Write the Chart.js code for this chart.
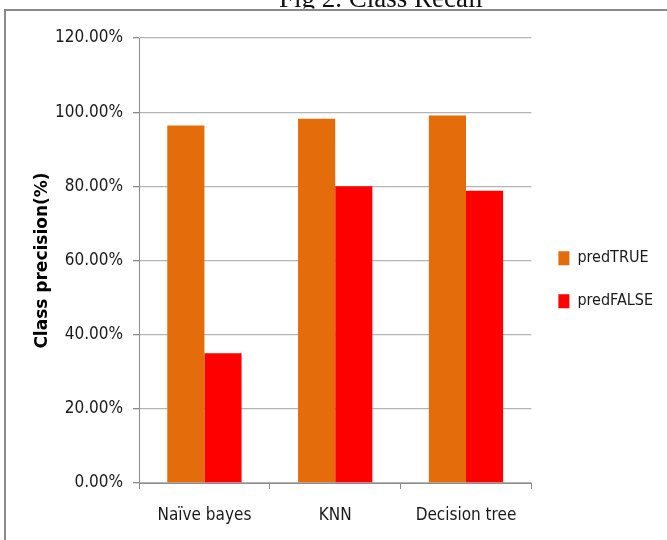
<!DOCTYPE html>
<html>
<head>
<meta charset="utf-8">
<script src="https://cdn.jsdelivr.net/npm/chart.js@4/dist/chart.umd.min.js"></script>
<style>
  html, body { margin: 0; padding: 0; background: #fff; }
  #wrap { position: relative; width: 667px; height: 540px; }
</style>
</head>
<body>
<div id="wrap"><canvas id="c" width="667" height="540"></canvas></div>
<script>
// Classifiers compared
const categories = ['Naïve bayes', 'KNN', 'Decision tree'];
// Class scores per classifier, in percent
const predTRUE = [96.4, 98.2, 99.1];
const predFALSE = [35.0, 80.0, 78.8];
// Value axis
const yMin = 0;
const yMax = 120;
const yStep = 20;
const yTitle = 'Class precision(%)';
const figCaption = 'Fig 2. Class Recall';

const narrow = '"DejaVu Sans Condensed", "Liberation Sans", Arial, sans-serif';
const wide = '"DejaVu Sans", "Liberation Sans", Arial, sans-serif';

// Page frame and the caption peeking above it
const framePlugin = {
  id: 'frame',
  afterDraw(chart) {
    const ctx = chart.ctx;
    ctx.save();
    ctx.beginPath();
    ctx.rect(0, 0, 667, 8.5);
    ctx.clip();
    ctx.fillStyle = '#111';
    ctx.font = '27px "Liberation Serif", "Times New Roman", serif';
    ctx.textAlign = 'center';
    ctx.textBaseline = 'alphabetic';
    ctx.fillText(figCaption, 381, 7);
    ctx.restore();

    ctx.save();
    ctx.strokeStyle = '#8a8a8a';
    ctx.lineWidth = 2;
    ctx.beginPath();
    ctx.moveTo(5, 540);
    ctx.lineTo(5, 10);
    ctx.lineTo(667, 10);
    ctx.stroke();
    ctx.restore();
  }
};

new Chart(document.getElementById('c'), {
  type: 'bar',
  data: {
    labels: categories,
    datasets: [
      { label: 'predTRUE', data: predTRUE, backgroundColor: '#E46C0A' },
      { label: 'predFALSE', data: predFALSE, backgroundColor: '#FF0000' }
    ]
  },
  options: {
    responsive: false,
    animation: false,
    devicePixelRatio: 1,
    layout: { padding: { left: 32, top: 38, right: 4, bottom: -2 } },
    datasets: {
      bar: { categoryPercentage: 0.568, barPercentage: 1.0 }
    },
    plugins: {
      title: { display: false },
      tooltip: { enabled: false },
      legend: {
        position: 'right',
        align: 'start',
        title: {
          display: true,
          text: ' ',
          font: { size: 1 },
          padding: { top: 184, bottom: 0 }
        },
        labels: {
          boxWidth: 11,
          boxHeight: 14,
          padding: 27,
          color: '#1a1a1a',
          font: { family: narrow, size: 16 }
        }
      }
    },
    scales: {
      x: {
        offset: true,
        grid: {
          offset: true,
          drawOnChartArea: false,
          drawTicks: true,
          tickLength: 6,
          color: '#8c8c8c',
          tickColor: '#8c8c8c',
          lineWidth: 1
        },
        border: { color: '#8c8c8c', width: 1 },
        ticks: {
          color: '#1a1a1a',
          padding: 16.3,
          maxRotation: 0,
          minRotation: 0,
          autoSkip: false,
          font: { family: narrow, size: 17 }
        }
      },
      y: {
        min: yMin,
        max: yMax,
        ticks: {
          stepSize: yStep,
          color: '#1a1a1a',
          padding: 10,
          font: { family: narrow, size: 17 },
          callback: v => v.toFixed(2) + '%'
        },
        grid: {
          color: '#b4b4b4',
          tickColor: '#8c8c8c',
          lineWidth: 1.3,
          drawTicks: true,
          tickLength: 6
        },
        border: { color: '#8c8c8c', width: 1 },
        title: {
          display: true,
          text: yTitle,
          color: '#000',
          padding: { top: 0, bottom: -7.4 },
          font: { family: wide, size: 17, weight: 'bold' }
        }
      }
    }
  },
  plugins: [framePlugin]
});
</script>
</body>
</html>
